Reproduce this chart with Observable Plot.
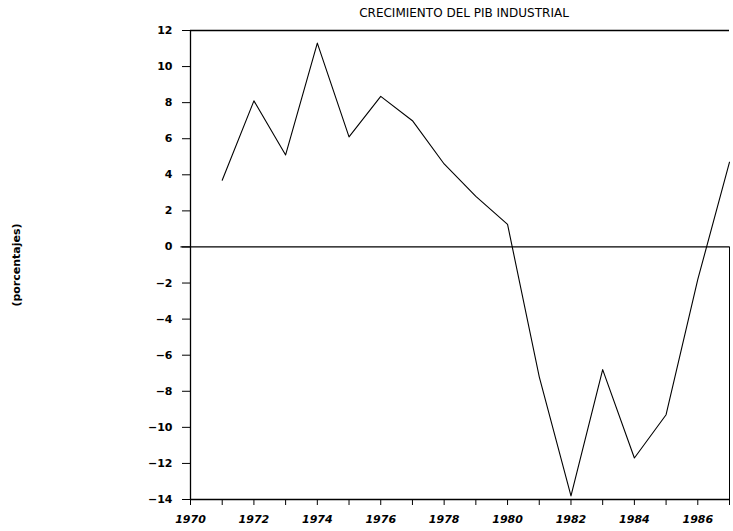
<!DOCTYPE html>
<html><head><meta charset="utf-8">
<script src="https://cdn.jsdelivr.net/npm/d3@7"></script>
<script src="https://cdn.jsdelivr.net/npm/@observablehq/plot@0.6"></script>
<style>body{margin:0;background:#fff}</style>
</head><body><div id="chart"></div>
<script>
const years = [1971,1972,1973,1974,1975,1976,1977,1978,1979,1980,1981,1982,1983,1984,1985,1986,1987];
const growth = [3.7,8.1,5.1,11.3,6.1,8.35,7.0,4.6,2.8,1.25,-7.2,-13.8,-6.8,-11.7,-9.3,-1.8,4.7];
const yTicks = [-14,-12,-10,-8,-6,-4,-2,0,2,4,6,8,10,12];
const xLabelTicks = [1970,1972,1974,1976,1978,1980,1982,1984,1986];
const xMinorTicks = [1970,1971,1972,1973,1974,1975,1976,1977,1978,1979,1980,1981,1982,1983,1984,1985,1986,1987];
const title = "CRECIMIENTO DEL PIB INDUSTRIAL";
const yLabel = "(porcentajes)";

const data = years.map((year, i) => ({year, value: growth[i]}));

const chart = Plot.plot({
  width: 733, height: 531,
  marginLeft: 190, marginRight: 4, marginTop: 30, marginBottom: 32,
  style: {fontFamily: "DejaVu Sans", fontSize: "11px", background: "#fff", color: "#000"},
  x: {domain: [1970, 1987], label: null},
  y: {domain: [-14, 12], label: null},
  marks: [
    Plot.ruleY([12], {x1: 1970, x2: 1987, stroke: "#000", strokeWidth: 1.3}),
    Plot.ruleY([-14], {x1: 1970, x2: 1987, stroke: "#000", strokeWidth: 1.3}),
    Plot.ruleY([0], {x1: 1969.7, x2: 1987, stroke: "#000", strokeWidth: 1.3}),
    Plot.ruleX([1970], {y1: -14, y2: 12, stroke: "#000", strokeWidth: 1.3}),
    Plot.ruleX([1987], {y1: -14, y2: 0, stroke: "#000", strokeWidth: 1}),
    Plot.axisY(yTicks, {tickSize: 8, tickPadding: 10, fontWeight: "bold", label: null}),
    Plot.axisX(xMinorTicks, {tickSize: 6, tickFormat: () => "", label: null}),
    Plot.axisX(xLabelTicks, {tickSize: 0, tickPadding: 16, fontWeight: "bold", fontStyle: "italic", tickFormat: d => String(d), label: null}),
    Plot.line(data, {x: "year", y: "value", stroke: "#000", strokeWidth: 1.1}),
    Plot.text([title], {frameAnchor: "top", dy: -17, lineAnchor: "middle", dx: 4, fontSize: 12}),
    Plot.text([yLabel], {frameAnchor: "left", dx: -174, rotate: -90, textAnchor: "middle", fontWeight: "bold", fontSize: 11})
  ]
});
document.getElementById("chart").appendChild(chart);
</script>
</body></html>
